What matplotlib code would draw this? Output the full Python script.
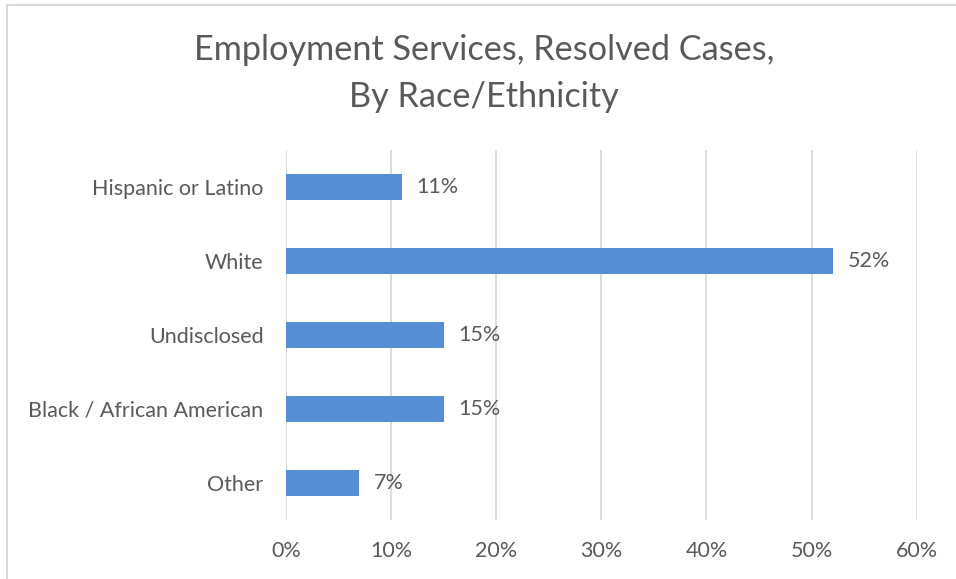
import matplotlib.pyplot as plt
from matplotlib.patches import Rectangle
from matplotlib.ticker import MultipleLocator, FuncFormatter

plt.rcParams['font.family'] = ['Lato', 'DejaVu Sans']

# Share of resolved cases per group (percent)
groups = ['Hispanic or Latino', 'White', 'Undisclosed', 'Black / African American', 'Other']
shares = [11, 52, 15, 15, 7]

text_col = '#595959'
bar_col = '#558ED5'
grid_col = '#D9D9D9'

fig = plt.figure(figsize=(9.56, 5.79), dpi=100)
ax = fig.add_axes([0.299, 0.102, 0.66, 0.639])

pos = list(range(len(groups)))
ax.barh(pos, shares, height=0.35, color=bar_col, zorder=2)
for p, v in zip(pos, shares):
    ax.text(v + 1.4, p, f'{v}%', va='center', ha='left', fontsize=15.5, color=text_col)

ax.set_xlim(0, 60)
ax.set_ylim(len(groups) - 0.5, -0.5)
ax.set_yticks(pos)
ax.set_yticklabels(groups)
ax.xaxis.set_major_locator(MultipleLocator(10))
ax.xaxis.set_major_formatter(FuncFormatter(lambda x, _: f'{x:.0f}%'))
ax.grid(axis='x', color=grid_col, linewidth=1.3, zorder=0)
ax.tick_params(length=0, labelsize=15.5, colors=text_col)
ax.tick_params(axis='x', pad=15)
ax.tick_params(axis='y', pad=16)
for s in ax.spines.values():
    s.set_visible(False)

fig.text(0.506, 0.873, 'Employment Services, Resolved Cases,\nBy Race/Ethnicity',
         ha='center', va='center', fontsize=24.7, color=text_col, linespacing=1.6)

# chart frame: only top and left edges are inside the canvas
fig.patches.append(Rectangle((0.0068, -0.1), 1.2, 1.0915, transform=fig.transFigure,
                             fill=False, edgecolor='#D9D9D9', linewidth=1.5))

fig.savefig('out.png', dpi=100)
